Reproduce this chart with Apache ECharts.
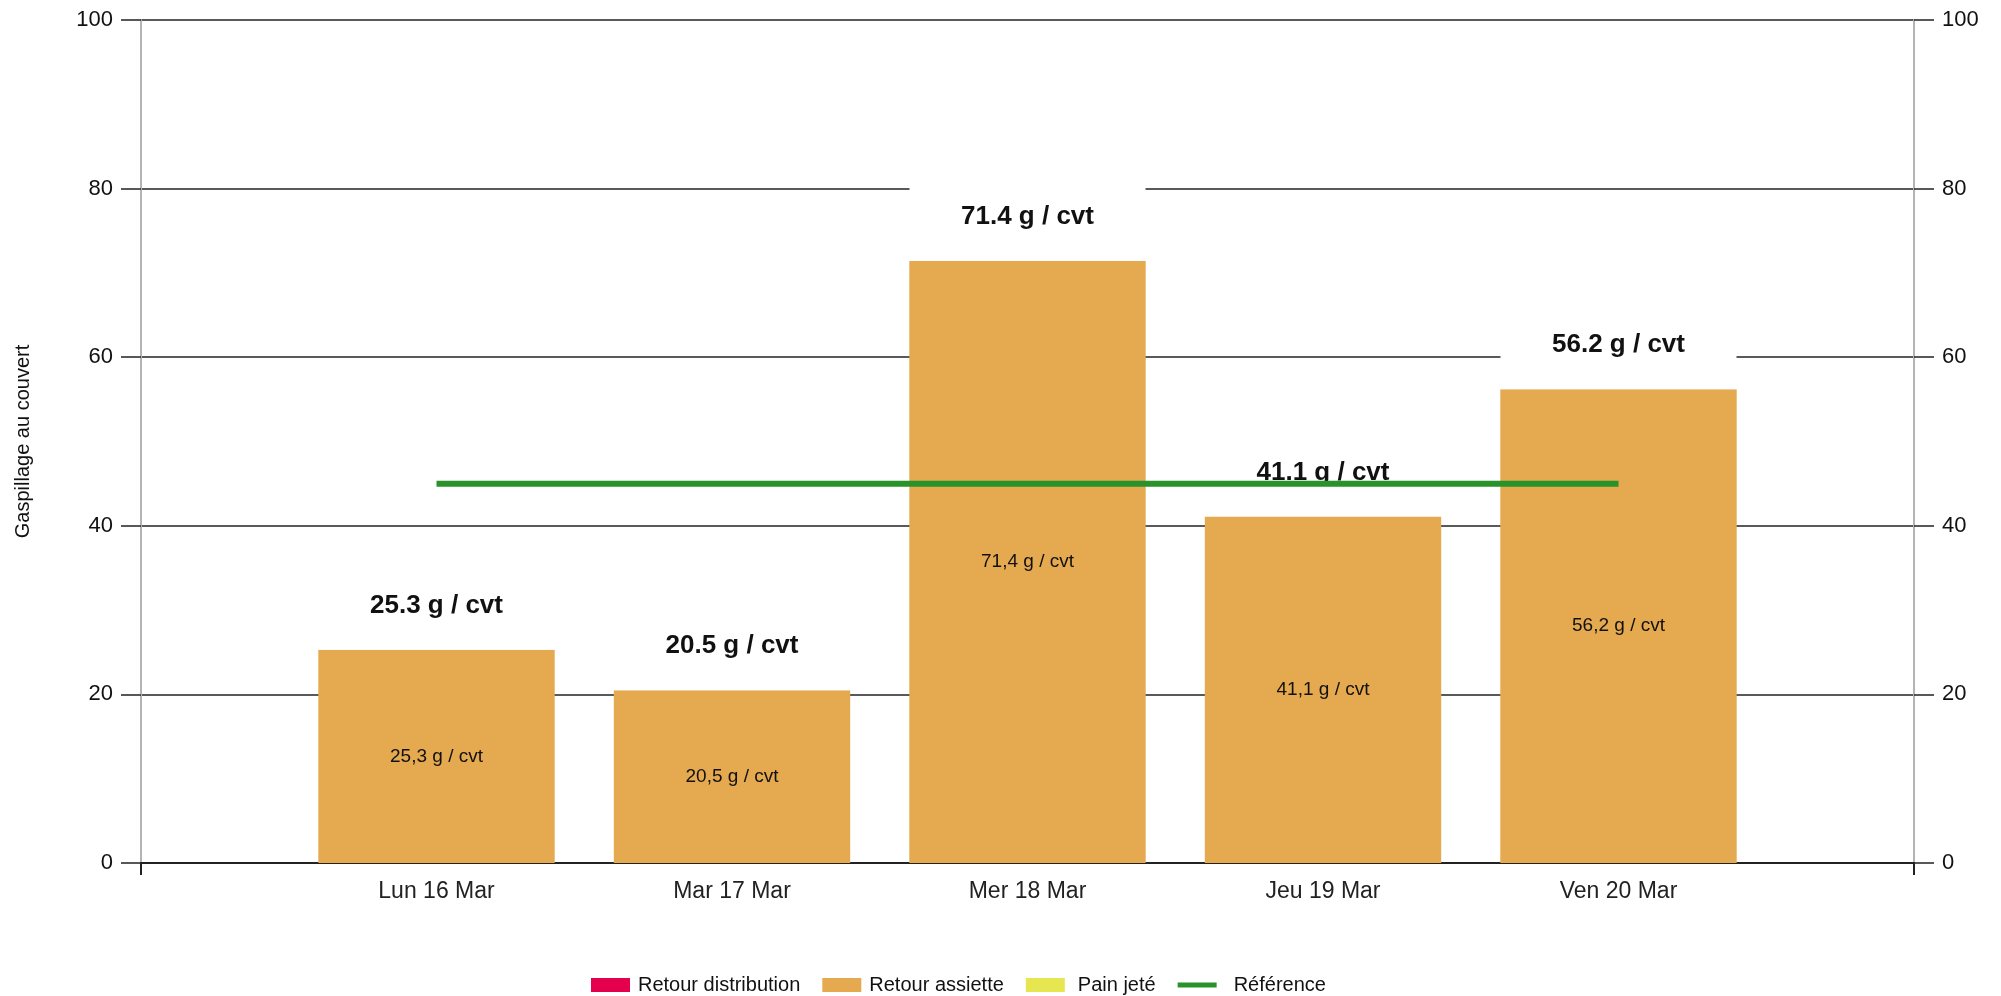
<!DOCTYPE html>
<html>
<head>
<meta charset="utf-8">
<script src="https://cdn.jsdelivr.net/npm/echarts@6/dist/echarts.min.js"></script>
<style>
html,body{margin:0;padding:0;background:#fff;}
#chart{width:2001px;height:996px;}
</style>
</head>
<body>
<div id="chart"></div>
<script>
const categories = ['', 'Lun 16 Mar', 'Mar 17 Mar', 'Mer 18 Mar', 'Jeu 19 Mar', 'Ven 20 Mar', ''];
const retourDistribution = [null, 0, 0, 0, 0, 0, null];
const retourAssiette = [null, 25.3, 20.5, 71.4, 41.1, 56.2, null];
const painJete = [null, 0, 0, 0, 0, 0, null];
const reference = [null, 45, 45, 45, 45, 45, null];
const yMin = 0, yMax = 100, yStep = 20;

const FONT = '"Liberation Sans", Arial, sans-serif';
const chart = echarts.init(document.getElementById('chart'), null, {renderer: 'canvas'});

function total(i) {
  return (retourDistribution[i] || 0) + (retourAssiette[i] || 0) + (painJete[i] || 0);
}

const yAxisCommon = {
  type: 'value', min: yMin, max: yMax, interval: yStep,
  axisLine: {show: true, lineStyle: {color: '#b4b4b4', width: 2}},
  axisTick: {show: true, length: 20, lineStyle: {color: '#222', width: 1.5}},
  axisLabel: {color: '#111', fontFamily: FONT, fontSize: 22, margin: 28}
};

const option = {
  animation: false,
  backgroundColor: '#fff',
  grid: {left: 141, right: 87, top: 20, bottom: 133, containLabel: false},
  legend: {
    left: 586, top: 970,
    itemWidth: 39, itemHeight: 14, itemGap: 22,
    textStyle: {fontFamily: FONT, fontSize: 20, color: '#111', padding: [0, 0, 0, 3]},
    data: [
      {name: 'Retour distribution', icon: 'rect'},
      {name: 'Retour assiette', icon: 'rect'},
      {name: 'Pain jeté', icon: 'rect', textStyle: {padding: [0, 0, 0, 8]}},
      {name: 'Référence', icon: 'path://M0,0 L40,0 L40,5 L0,5 Z', textStyle: {padding: [0, 0, 0, 12]}}
    ]
  },
  xAxis: {
    type: 'category', data: categories, boundaryGap: false,
    axisLine: {show: true, lineStyle: {color: '#222', width: 2}},
    axisTick: {show: true, length: 12, interval: (i) => i === 0 || i === categories.length - 1, lineStyle: {color: '#222', width: 2}},
    axisLabel: {interval: 0, color: '#222', fontFamily: FONT, fontSize: 23, margin: 17},
    splitLine: {show: false}
  },
  yAxis: [
    Object.assign({}, yAxisCommon, {
      position: 'left',
      name: 'Gaspillage au couvert', nameLocation: 'middle', nameGap: 108,
      nameTextStyle: {fontFamily: FONT, fontSize: 20, color: '#111'},
      splitLine: {show: true, lineStyle: {color: '#222', width: 1.5}}
    }),
    Object.assign({}, yAxisCommon, {
      position: 'right',
      splitLine: {show: false}
    })
  ],
  series: [
    {
      name: 'Retour distribution', type: 'bar', stack: 'total', barWidth: '80%',
      itemStyle: {color: '#E5004E'}, data: retourDistribution, z: 2
    },
    {
      name: 'Retour assiette', type: 'bar', stack: 'total', barWidth: '80%',
      itemStyle: {color: '#E5A94F'}, data: retourAssiette, z: 2,
      label: {
        show: true, position: 'inside', color: '#111', fontFamily: FONT, fontSize: 19,
        formatter: (p) => p.value == null ? '' : p.value.toFixed(1).replace('.', ',') + ' g / cvt'
      }
    },
    {
      name: 'Pain jeté', type: 'bar', stack: 'total', barWidth: '80%',
      itemStyle: {color: '#E6E650'}, data: painJete, z: 2,
      label: {
        show: true, position: 'top', distance: 0,
        backgroundColor: '#fff', width: 236, padding: [29, 0, 31, 0],
        align: 'center',
        color: '#111', fontFamily: FONT, fontSize: 26, fontWeight: 'bold',
        formatter: (p) => p.value == null ? '' : total(p.dataIndex).toFixed(1) + ' g / cvt'
      }
    },
    {
      name: 'Référence', type: 'line', data: reference, symbol: 'none', z: 10,
      lineStyle: {color: '#2A922A', width: 6}, itemStyle: {color: '#2A922A'}
    }
  ]
};
chart.setOption(option);
</script>
</body>
</html>
